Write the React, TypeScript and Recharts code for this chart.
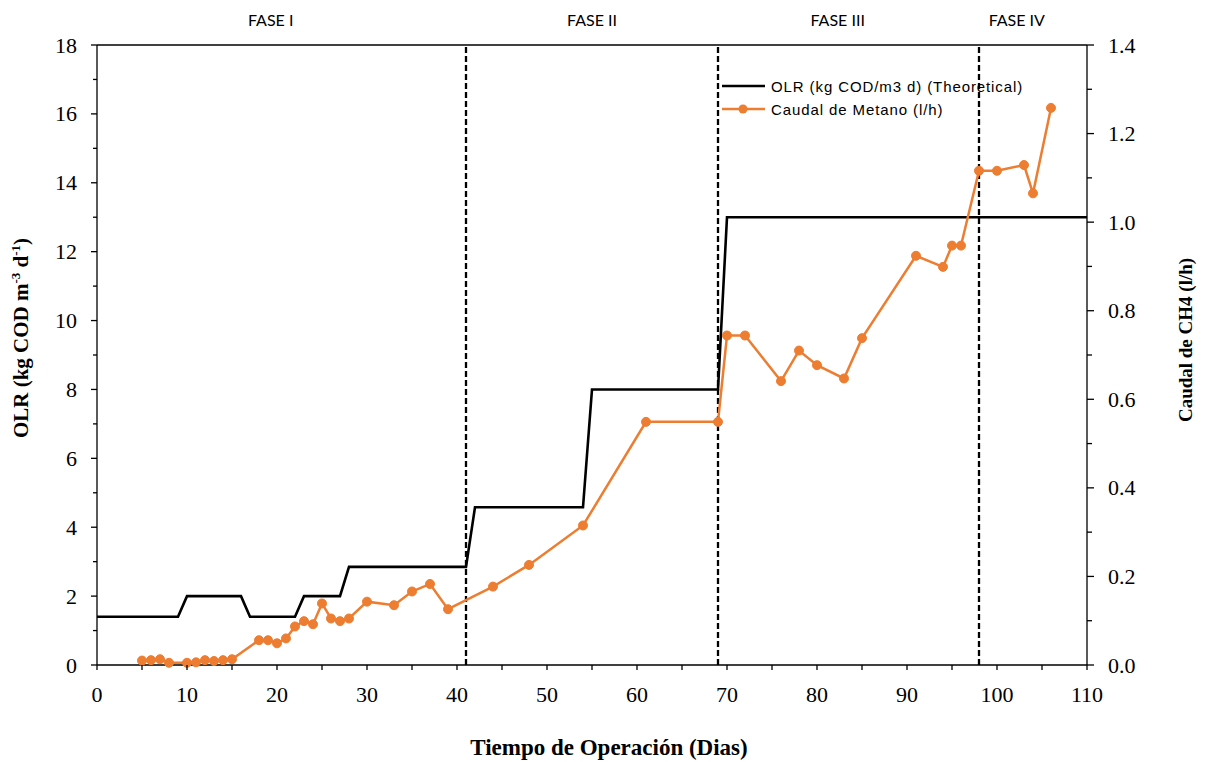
import { ComposedChart, Line, XAxis, YAxis, ReferenceLine } from "recharts";

// OLR teórico (escalones) - eje izquierdo
const OLR_DAYS = [0, 9, 10, 16, 17, 22, 23, 27, 28, 41, 42, 54, 55, 69, 70, 110];
const OLR_VALUES = [1.4, 1.4, 2, 2, 1.4, 1.4, 2, 2, 2.85, 2.85, 4.58, 4.58, 8, 8, 13, 13];

// Caudal de metano (l/h) - eje derecho
const CH4_DAYS = [
  5, 6, 7, 8, 10, 11, 12, 13, 14, 15, 18, 19, 20, 21, 22, 23, 24, 25, 26, 27, 28, 30, 33, 35, 37,
  39, 44, 48, 54, 61, 69, 70, 72, 76, 78, 80, 83, 85, 91, 94, 95, 96, 98, 100, 103, 104, 106,
];
const CH4_VALUES = [
  0.01, 0.011, 0.013, 0.005, 0.005, 0.006, 0.011, 0.009, 0.011, 0.013, 0.056, 0.056, 0.049, 0.06,
  0.087, 0.099, 0.092, 0.139, 0.105, 0.099, 0.105, 0.143, 0.135, 0.166, 0.183, 0.126, 0.177, 0.226,
  0.315, 0.549, 0.549, 0.744, 0.744, 0.641, 0.71, 0.677, 0.647, 0.738, 0.924, 0.899, 0.947, 0.947,
  1.116, 1.116, 1.129, 1.065, 1.258,
];

const PHASE_BOUNDS = [41, 69, 98];
const PHASE_NAMES = ["FASE I", "FASE II", "FASE III", "FASE IV"];
const PHASE_LABEL_AT = [19.3, 55, 82.3, 102.2];

const X_TICKS = [0, 5, 10, 15, 20, 25, 30, 35, 40, 45, 50, 55, 60, 65, 70, 75, 80, 85, 90, 95, 100, 105, 110];
const LEFT_TICKS = [0, 1, 2, 3, 4, 5, 6, 7, 8, 9, 10, 11, 12, 13, 14, 15, 16, 17, 18];
const RIGHT_TICKS = [0, 0.1, 0.2, 0.3, 0.4, 0.5, 0.6, 0.7, 0.8, 0.9, 1.0, 1.1, 1.2, 1.3, 1.4];

const olrData = OLR_DAYS.map((day, i) => ({ day, olr: OLR_VALUES[i] }));
const ch4Data = CH4_DAYS.map((day, i) => ({ day, ch4: CH4_VALUES[i] }));

const SERIF = "'Liberation Serif', 'Times New Roman', serif";
const SANS = "'Liberation Sans', Arial, sans-serif";
const ORANGE = "#ED7D31";
const AXIS = { stroke: "#000", strokeWidth: 1.3 };

function XTick({ x, y, payload }: any) {
  const major = payload.value % 10 === 0;
  return (
    <g>
      <line x1={x} x2={x} y1={y} y2={y + 5} stroke="#000" strokeWidth={1.3} />
      {major && (
        <text x={x} y={y + 37} textAnchor="middle" fontFamily={SERIF} fontSize={22} fill="#000">
          {payload.value}
        </text>
      )}
    </g>
  );
}

function LeftTick({ x, y, payload }: any) {
  const major = payload.value % 2 === 0;
  return (
    <g>
      <line x1={x} x2={x - (major ? 6 : 4)} y1={y} y2={y} stroke="#000" strokeWidth={1.3} />
      {major && (
        <text x={x - 20} y={y + 7.5} textAnchor="end" fontFamily={SERIF} fontSize={22} fill="#000">
          {payload.value}
        </text>
      )}
    </g>
  );
}

function RightTick({ x, y, payload }: any) {
  const major = Math.round(payload.value * 10) % 2 === 0;
  return (
    <g>
      <line x1={x} x2={x + (major ? 7 : 5)} y1={y} y2={y} stroke="#000" strokeWidth={1.3} />
      {major && (
        <text x={x + 21} y={y + 7.5} textAnchor="start" fontFamily={SERIF} fontSize={22} fill="#000">
          {payload.value.toFixed(1)}
        </text>
      )}
    </g>
  );
}

function LeftTitle({ viewBox }: any) {
  const cx = viewBox.x + 28;
  const cy = viewBox.y + viewBox.height / 2 - 17;
  return (
    <text
      transform={`translate(${cx},${cy}) rotate(-90)`}
      textAnchor="middle"
      fontFamily={SERIF}
      fontWeight="bold"
      fontSize={21}
      fill="#000"
    >
      OLR (kg COD m
      <tspan dy={-8} fontSize={13}>-3</tspan>
      <tspan dy={8}> d</tspan>
      <tspan dy={-8} fontSize={13}>-1</tspan>
      <tspan dy={8}>)</tspan>
    </text>
  );
}

function RightTitle({ viewBox }: any) {
  const cx = viewBox.x + 105;
  const cy = viewBox.y + viewBox.height / 2 - 15;
  return (
    <text
      transform={`translate(${cx},${cy}) rotate(-90)`}
      textAnchor="middle"
      fontFamily={SERIF}
      fontWeight="bold"
      fontSize={19}
      fill="#000"
    >
      Caudal de CH4 (l/h)
    </text>
  );
}

function BottomTitle({ viewBox }: any) {
  return (
    <text
      x={viewBox.x + viewBox.width / 2 + 17}
      y={viewBox.y + 90}
      textAnchor="middle"
      fontFamily={SERIF}
      fontWeight="bold"
      fontSize={23}
      fill="#000"
    >
      Tiempo de Operación (Dias)
    </text>
  );
}

function PhaseLabel({ viewBox, text }: any) {
  return (
    <text x={viewBox.x} y={viewBox.y - 19} textAnchor="middle" fontFamily="Lato, 'Open Sans', sans-serif" fontSize={16} fill="#000">
      {text}
    </text>
  );
}

export default function App() {
  return (
    <div style={{ position: "absolute", left: 0, top: 0, width: 1208, height: 762, background: "#fff" }}>
      <ComposedChart width={1208} height={762} margin={{ top: 45, right: 0, bottom: 0, left: 0 }}>
        <XAxis
          dataKey="day"
          type="number"
          domain={[0, 110]}
          ticks={X_TICKS}
          interval={0}
          height={97}
          tickSize={0}
          tickMargin={0}
          tickLine={false}
          axisLine={AXIS}
          tick={<XTick />}
          allowDataOverflow
          label={<BottomTitle />}
        />
        <YAxis
          yAxisId="left"
          orientation="left"
          width={97}
          domain={[0, 18]}
          ticks={LEFT_TICKS}
          interval={0}
          tickSize={0}
          tickMargin={0}
          tickLine={false}
          axisLine={AXIS}
          tick={<LeftTick />}
          label={<LeftTitle />}
        />
        <YAxis
          yAxisId="right"
          orientation="right"
          width={121}
          domain={[0, 1.4]}
          ticks={RIGHT_TICKS}
          interval={0}
          tickSize={0}
          tickMargin={0}
          tickLine={false}
          axisLine={AXIS}
          tick={<RightTick />}
          label={<RightTitle />}
        />
        <ReferenceLine yAxisId="left" y={18} stroke="#000" strokeWidth={1.3} />
        {PHASE_BOUNDS.map((d) => (
          <ReferenceLine key={d} yAxisId="left" x={d} stroke="#000" strokeWidth={2.3} strokeDasharray="6 3" />
        ))}
        {PHASE_NAMES.map((name, i) => (
          <ReferenceLine
            key={name}
            yAxisId="left"
            x={PHASE_LABEL_AT[i]}
            stroke="none"
            label={<PhaseLabel text={name} />}
          />
        ))}
        <Line
          yAxisId="left"
          data={olrData}
          dataKey="olr"
          type="linear"
          stroke="#000"
          strokeWidth={2.6}
          dot={false}
          isAnimationActive={false}
        />
        <Line
          yAxisId="right"
          data={ch4Data}
          dataKey="ch4"
          type="linear"
          stroke={ORANGE}
          strokeWidth={2.5}
          dot={{ r: 4.5, fill: ORANGE, stroke: ORANGE, strokeWidth: 1 }}
          isAnimationActive={false}
        />
      </ComposedChart>
      <svg style={{ position: "absolute", left: 715, top: 75 }} width={330} height={46}>
        <line x1={7} x2={50} y1={11} y2={11} stroke="#000" strokeWidth={2.6} />
        <text x={56} y={16.5} fontFamily={SANS} fontSize={15} letterSpacing={0.9} fill="#000">
          OLR (kg COD/m3 d) (Theoretical)
        </text>
        <line x1={7} x2={50} y1={34} y2={34} stroke={ORANGE} strokeWidth={2.5} />
        <circle cx={28} cy={34} r={4.5} fill={ORANGE} />
        <text x={56} y={39.5} fontFamily={SANS} fontSize={15} letterSpacing={0.9} fill="#000">
          Caudal de Metano (l/h)
        </text>
      </svg>
    </div>
  );
}
